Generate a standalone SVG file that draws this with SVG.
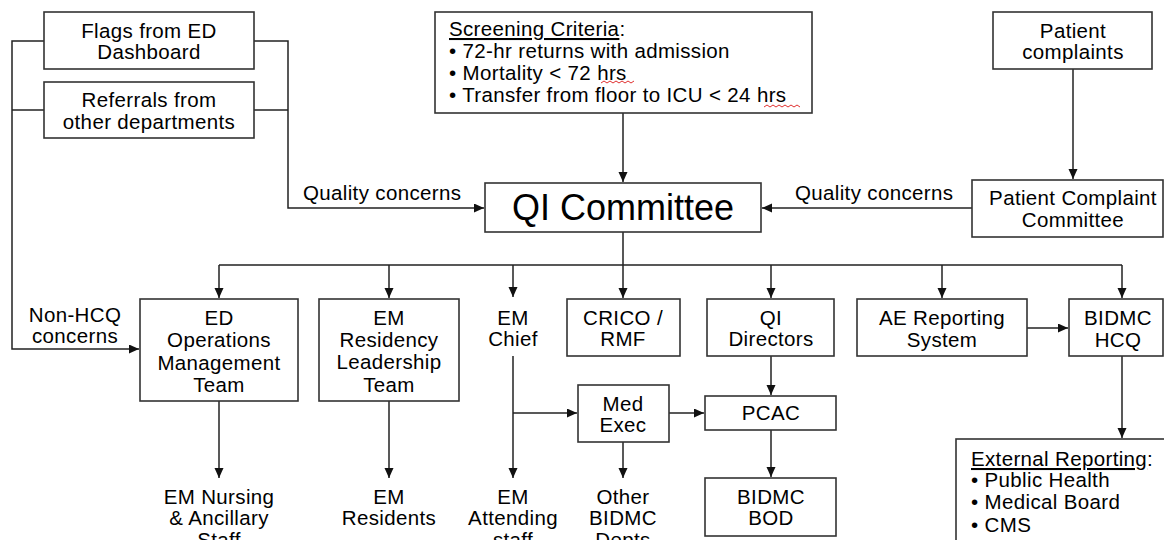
<svg xmlns="http://www.w3.org/2000/svg" width="1164" height="540" viewBox="0 0 1164 540">
<style>
  .box{fill:#fff;stroke:#333;stroke-width:1.6}
  .ln{fill:none;stroke:#222;stroke-width:1.5}
  text{font-family:"Liberation Sans",Arial,sans-serif;font-size:20.5px;letter-spacing:0.35px;fill:#000}
  .c{text-anchor:middle}
  .big{font-size:36px;letter-spacing:0}
  .sq{fill:none;stroke:#e03030;stroke-width:1}
</style>
<defs>
  <marker id="ar" markerUnits="userSpaceOnUse" markerWidth="11" markerHeight="10" refX="10" refY="4.5" orient="auto">
    <path d="M0,0 L10,4.5 L0,9 z" fill="#111"/>
  </marker>
</defs>
<rect width="1164" height="540" fill="#fff"/>

<g id="connectors">
  <path class="ln" d="M44,41 H12 V349 H139" marker-end="url(#ar)"/>
  <path class="ln" d="M44,110 H12"/>
  <path class="ln" d="M254,41 H288 V208 H484" marker-end="url(#ar)"/>
  <path class="ln" d="M254,110 H288"/>
  <path class="ln" d="M623,113 V182" marker-end="url(#ar)"/>
  <path class="ln" d="M1073,69 V179" marker-end="url(#ar)"/>
  <path class="ln" d="M972,208 H762" marker-end="url(#ar)"/>
  <path class="ln" d="M623,232 V265 M219,265 H1122"/>
  <path class="ln" d="M219,265 V298" marker-end="url(#ar)"/>
  <path class="ln" d="M389,265 V298" marker-end="url(#ar)"/>
  <path class="ln" d="M513,265 V297" marker-end="url(#ar)"/>
  <path class="ln" d="M623,265 V298" marker-end="url(#ar)"/>
  <path class="ln" d="M771,265 V298" marker-end="url(#ar)"/>
  <path class="ln" d="M942,265 V298" marker-end="url(#ar)"/>
  <path class="ln" d="M1122,265 V298" marker-end="url(#ar)"/>
  <path class="ln" d="M219,401 V478" marker-end="url(#ar)"/>
  <path class="ln" d="M389,401 V478" marker-end="url(#ar)"/>
  <path class="ln" d="M513,356 V478" marker-end="url(#ar)"/>
  <path class="ln" d="M513,413 H577" marker-end="url(#ar)"/>
  <path class="ln" d="M669,413 H704" marker-end="url(#ar)"/>
  <path class="ln" d="M623,442 V478" marker-end="url(#ar)"/>
  <path class="ln" d="M771,356 V395" marker-end="url(#ar)"/>
  <path class="ln" d="M771,430 V477" marker-end="url(#ar)"/>
  <path class="ln" d="M1027,328 H1068" marker-end="url(#ar)"/>
  <path class="ln" d="M1122,356 V438" marker-end="url(#ar)"/>
</g>

<g id="flags">
  <rect class="box" x="44" y="12" width="210" height="57"/>
  <text class="c" x="149" y="38">Flags from ED</text>
  <text class="c" x="149" y="59">Dashboard</text>
</g>
<g id="referrals">
  <rect class="box" x="44" y="82" width="210" height="56"/>
  <text class="c" x="149" y="107">Referrals from</text>
  <text class="c" x="149" y="129">other departments</text>
</g>
<g id="screening">
  <rect class="box" x="435" y="12" width="377" height="101"/>
  <text x="449" y="36"><tspan text-decoration="underline">Screening Criteria</tspan>:</text>
  <text x="449" y="58">• 72-hr returns with admission</text>
  <text x="449" y="80">• Mortality &lt; 72 hrs</text>
  <text x="449" y="102">• Transfer from floor to ICU &lt; 24 hrs</text>
  <path class="sq" d="M601,83 l3,-2 l3,2 l3,-2 l3,2 l3,-2 l3,2 l3,-2 l3,2 l3,-2 l3,2 l3,-2"/>
  <path class="sq" d="M764,107 l3,-2 l3,2 l3,-2 l3,2 l3,-2 l3,2 l3,-2 l3,2 l3,-2 l3,2 l3,-2 l3,2"/>
</g>
<g id="patient-complaints">
  <rect class="box" x="993" y="12" width="159" height="57"/>
  <text class="c" x="1073" y="38">Patient</text>
  <text class="c" x="1073" y="59">complaints</text>
</g>
<g id="qi-committee">
  <rect class="box" x="485" y="183" width="276" height="49"/>
  <text class="c big" x="623" y="220">QI Committee</text>
</g>
<g id="label-left-quality">
  <text x="303" y="200">Quality concerns</text>
</g>
<g id="label-right-quality">
  <text x="795" y="200">Quality concerns</text>
</g>
<g id="pcc">
  <rect class="box" x="972" y="180" width="191" height="57"/>
  <text class="c" x="1073" y="205">Patient Complaint</text>
  <text class="c" x="1073" y="227">Committee</text>
</g>
<g id="label-nonhcq">
  <text class="c" x="75" y="322">Non-HCQ</text>
  <text class="c" x="75" y="343">concerns</text>
</g>
<g id="ed-ops">
  <rect class="box" x="140" y="299" width="158" height="102"/>
  <text class="c" x="219" y="325">ED</text>
  <text class="c" x="219" y="347">Operations</text>
  <text class="c" x="219" y="370">Management</text>
  <text class="c" x="219" y="392">Team</text>
</g>
<g id="em-residency">
  <rect class="box" x="319" y="299" width="140" height="102"/>
  <text class="c" x="389" y="325">EM</text>
  <text class="c" x="389" y="347">Residency</text>
  <text class="c" x="389" y="369">Leadership</text>
  <text class="c" x="389" y="392">Team</text>
</g>
<g id="em-chief">
  <text class="c" x="513" y="325">EM</text>
  <text class="c" x="513" y="346">Chief</text>
</g>
<g id="crico">
  <rect class="box" x="567" y="299" width="113" height="57"/>
  <text class="c" x="623" y="325">CRICO /</text>
  <text class="c" x="623" y="346">RMF</text>
</g>
<g id="qi-directors">
  <rect class="box" x="707" y="299" width="127" height="57"/>
  <text class="c" x="771" y="325">QI</text>
  <text class="c" x="771" y="346">Directors</text>
</g>
<g id="ae-reporting">
  <rect class="box" x="857" y="299" width="170" height="57"/>
  <text class="c" x="942" y="325">AE Reporting</text>
  <text class="c" x="942" y="347">System</text>
</g>
<g id="bidmc-hcq">
  <rect class="box" x="1069" y="299" width="94" height="57"/>
  <text class="c" x="1118" y="325">BIDMC</text>
  <text class="c" x="1118" y="347">HCQ</text>
</g>
<g id="med-exec">
  <rect class="box" x="578" y="385" width="91" height="57"/>
  <text class="c" x="623" y="411">Med</text>
  <text class="c" x="623" y="432">Exec</text>
</g>
<g id="pcac">
  <rect class="box" x="705" y="396" width="131" height="34"/>
  <text class="c" x="771" y="420">PCAC</text>
</g>
<g id="bidmc-bod">
  <rect class="box" x="705" y="478" width="131" height="58"/>
  <text class="c" x="771" y="504">BIDMC</text>
  <text class="c" x="771" y="525">BOD</text>
</g>
<g id="em-nursing">
  <text class="c" x="219" y="504">EM Nursing</text>
  <text class="c" x="219" y="525">&amp; Ancillary</text>
  <text class="c" x="219" y="547">Staff</text>
</g>
<g id="em-residents">
  <text class="c" x="389" y="504">EM</text>
  <text class="c" x="389" y="525">Residents</text>
</g>
<g id="em-attending">
  <text class="c" x="513" y="504">EM</text>
  <text class="c" x="513" y="525">Attending</text>
  <text class="c" x="513" y="547">staff</text>
</g>
<g id="other-depts">
  <text class="c" x="623" y="504">Other</text>
  <text class="c" x="623" y="525">BIDMC</text>
  <text class="c" x="623" y="547">Depts</text>
</g>
<g id="external-reporting">
  <rect class="box" x="956" y="439" width="220" height="120"/>
  <text x="971" y="466"><tspan text-decoration="underline">External Reporting</tspan>:</text>
  <text x="971" y="487">• Public Health</text>
  <text x="971" y="509">• Medical Board</text>
  <text x="971" y="532">• CMS</text>
</g>
</svg>
